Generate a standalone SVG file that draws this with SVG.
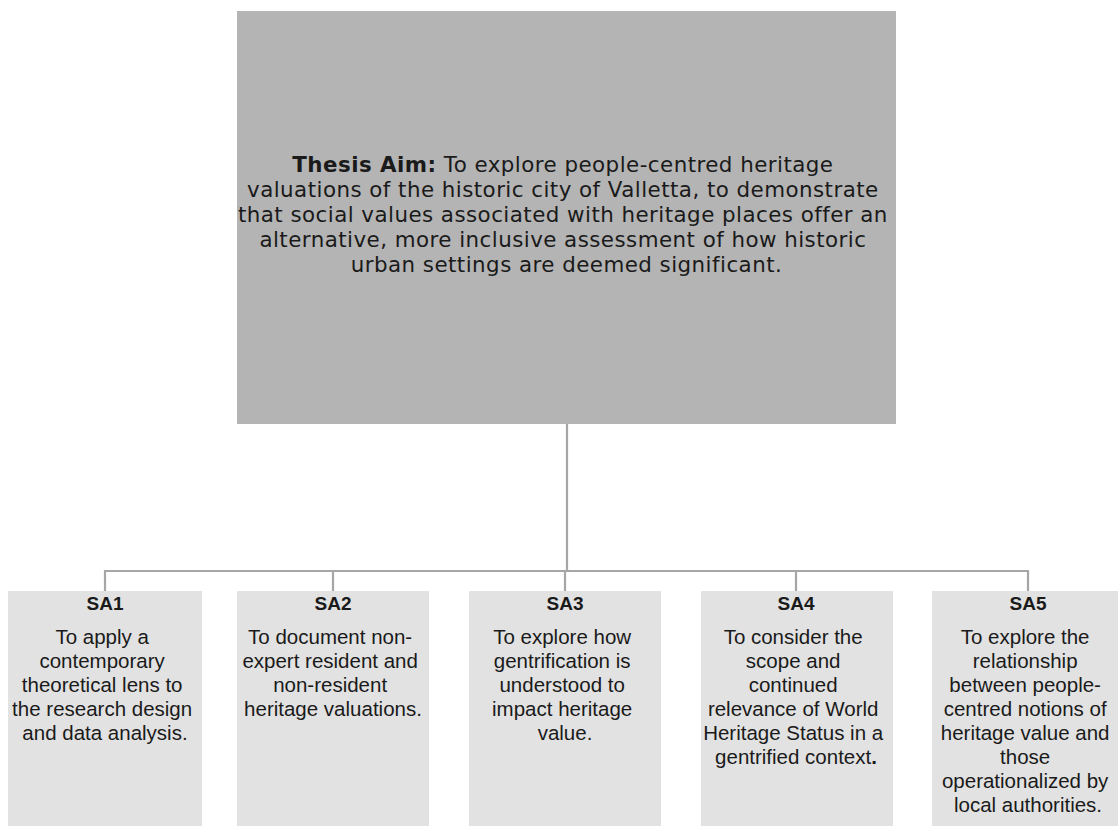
<svg xmlns="http://www.w3.org/2000/svg" width="1118" height="826" viewBox="0 0 1118 826">
  <style>
    .aim { fill: #b4b4b4; }
    .sub { fill: #e2e2e2; }
    .conn { stroke: #a6a6a6; stroke-width: 2.2; fill: none; }
    text { font-family: "Liberation Sans", Arial, sans-serif; fill: #1a1a1a; text-anchor: middle; }
    .big { font-family: "DejaVu Sans", "Liberation Sans", sans-serif; font-size: 21.4px; letter-spacing: 0.45px; }
    .ttl { font-size: 19px; font-weight: bold; }
    .body { font-size: 20.5px; }
    .b { font-weight: bold; }
  </style>
  <rect width="1118" height="826" fill="#ffffff"/>

  <g id="connectors">
    <line class="conn" x1="567" y1="424" x2="567" y2="571"/>
    <line class="conn" x1="104" y1="571" x2="1029" y2="571"/>
    <line class="conn" x1="105" y1="570" x2="105" y2="591"/>
    <line class="conn" x1="333" y1="570" x2="333" y2="591"/>
    <line class="conn" x1="565" y1="570" x2="565" y2="591"/>
    <line class="conn" x1="796" y1="570" x2="796" y2="591"/>
    <line class="conn" x1="1028" y1="570" x2="1028" y2="591"/>
  </g>

  <g id="thesis-aim">
    <rect class="aim" x="237" y="11" width="659" height="413"/>
    <text class="big">
      <tspan x="566.5" y="172"><tspan class="b">Thesis Aim:</tspan> To explore people-centred heritage</tspan>
      <tspan x="566.5" y="197">valuations of the historic city of Valletta, to demonstrate</tspan>
      <tspan x="566.5" y="222">that social values associated with heritage places offer an</tspan>
      <tspan x="566.5" y="247">alternative, more inclusive assessment of how historic</tspan>
      <tspan x="566.5" y="272">urban settings are deemed significant.</tspan>
    </text>
  </g>

  <g id="sa1">
    <rect class="sub" x="8" y="591" width="194" height="240"/>
    <text class="ttl" x="105" y="610">SA1</text>
    <text class="body">
      <tspan x="105" y="644">To apply a</tspan>
      <tspan x="105" y="668">contemporary</tspan>
      <tspan x="105" y="692">theoretical lens to</tspan>
      <tspan x="105" y="716">the research design</tspan>
      <tspan x="105" y="740">and data analysis.</tspan>
    </text>
  </g>

  <g id="sa2">
    <rect class="sub" x="237" y="591" width="192" height="240"/>
    <text class="ttl" x="333" y="610">SA2</text>
    <text class="body">
      <tspan x="333" y="644">To document non-</tspan>
      <tspan x="333" y="668">expert resident and</tspan>
      <tspan x="333" y="692">non-resident</tspan>
      <tspan x="333" y="716">heritage valuations.</tspan>
    </text>
  </g>

  <g id="sa3">
    <rect class="sub" x="469" y="591" width="192" height="240"/>
    <text class="ttl" x="565" y="610">SA3</text>
    <text class="body">
      <tspan x="565" y="644">To explore how</tspan>
      <tspan x="565" y="668">gentrification is</tspan>
      <tspan x="565" y="692">understood to</tspan>
      <tspan x="565" y="716">impact heritage</tspan>
      <tspan x="565" y="740">value.</tspan>
    </text>
  </g>

  <g id="sa4">
    <rect class="sub" x="701" y="591" width="192" height="240"/>
    <text class="ttl" x="796" y="610">SA4</text>
    <text class="body">
      <tspan x="796" y="644">To consider the</tspan>
      <tspan x="796" y="668">scope and</tspan>
      <tspan x="796" y="692">continued</tspan>
      <tspan x="796" y="716">relevance of World</tspan>
      <tspan x="796" y="740">Heritage Status in a</tspan>
      <tspan x="796" y="764">gentrified context<tspan class="b">.</tspan></tspan>
    </text>
  </g>

  <g id="sa5">
    <rect class="sub" x="932" y="591" width="192" height="240"/>
    <text class="ttl" x="1028" y="610">SA5</text>
    <text class="body">
      <tspan x="1028" y="644">To explore the</tspan>
      <tspan x="1028" y="668">relationship</tspan>
      <tspan x="1028" y="692">between people-</tspan>
      <tspan x="1028" y="716">centred notions of</tspan>
      <tspan x="1028" y="740">heritage value and</tspan>
      <tspan x="1028" y="764">those</tspan>
      <tspan x="1028" y="788">operationalized by</tspan>
      <tspan x="1028" y="812">local authorities.</tspan>
    </text>
  </g>
</svg>
